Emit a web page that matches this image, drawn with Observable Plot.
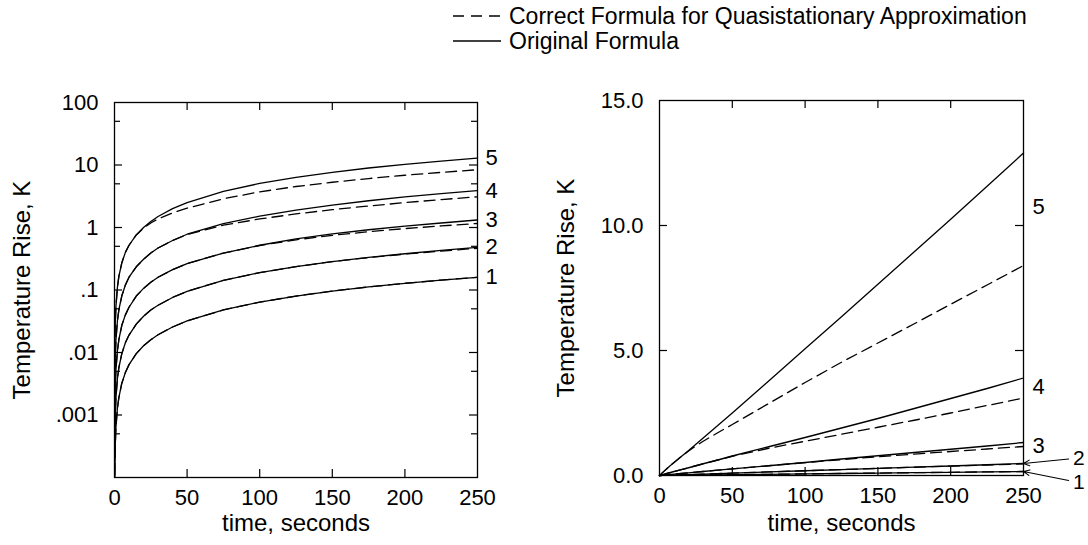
<!DOCTYPE html>
<html>
<head>
<meta charset="utf-8">
<script src="https://cdn.jsdelivr.net/npm/d3@7"></script>
<script src="https://cdn.jsdelivr.net/npm/@observablehq/plot@0.6"></script>
<style>
  html, body { margin: 0; padding: 0; background: #fff; }
  #root { position: relative; width: 1088px; height: 545px; overflow: hidden; background: #fff;
          font-family: "Liberation Sans", Arial, Helvetica, sans-serif; }
  #legend { position: absolute; left: 0; top: 0; width: 1088px; height: 60px; }
  #left { position: absolute; left: 0; top: 80px; width: 544px; height: 465px; }
  #right { position: absolute; left: 544px; top: 80px; width: 544px; height: 465px; }
  svg { overflow: visible; }
</style>
</head>
<body>
<div id="root">
  <div id="legend"></div>
  <div id="left"></div>
  <div id="right"></div>
</div>
<script>
// ---- data ----
const time = [0, 0.05, 0.1, 0.2, 0.5, 1, 2, 3, 5, 7.5, 10, 15, 20, 25, 30, 40, 50, 75, 100, 125, 150, 175, 200, 225, 250];

// Original formula (solid)
const orig5 = [0, 0.0028, 0.0055, 0.011, 0.028, 0.055, 0.11, 0.165, 0.27, 0.4, 0.52, 0.76, 1.0, 1.25, 1.5, 2.0, 2.5, 3.78, 5.07, 6.35, 7.65, 8.95, 10.25, 11.57, 12.9];
const orig4 = [0, 0.0008, 0.0016, 0.0032, 0.008, 0.016, 0.032, 0.048, 0.08, 0.12, 0.16, 0.235, 0.31, 0.39, 0.47, 0.62, 0.78, 1.15, 1.52, 1.9, 2.28, 2.68, 3.08, 3.48, 3.9];
const orig3 = [0, 0.00027, 0.00053, 0.00106, 0.0027, 0.0053, 0.0106, 0.016, 0.027, 0.04, 0.053, 0.08, 0.106, 0.133, 0.16, 0.212, 0.265, 0.39, 0.52, 0.66, 0.79, 0.92, 1.05, 1.18, 1.32];
const orig2 = [0, 0.0001, 0.00019, 0.00038, 0.00095, 0.0019, 0.0038, 0.0057, 0.0095, 0.0143, 0.019, 0.0285, 0.038, 0.048, 0.057, 0.076, 0.095, 0.143, 0.19, 0.237, 0.285, 0.333, 0.38, 0.43, 0.48];
const orig1 = [0, 0.000032, 0.000064, 0.000128, 0.00032, 0.00064, 0.00128, 0.0019, 0.0032, 0.0048, 0.0064, 0.0096, 0.0128, 0.016, 0.0192, 0.0256, 0.032, 0.048, 0.064, 0.08, 0.096, 0.112, 0.128, 0.144, 0.16];

// Correct formula for quasistationary approximation (dashed)
const quasi5 = [0, 0.0028, 0.0055, 0.011, 0.028, 0.055, 0.11, 0.165, 0.27, 0.4, 0.52, 0.76, 0.98, 1.18, 1.37, 1.71, 2.04, 2.88, 3.72, 4.53, 5.3, 6.07, 6.85, 7.62, 8.4];
const quasi4 = [0, 0.0008, 0.0016, 0.0032, 0.008, 0.016, 0.032, 0.048, 0.08, 0.12, 0.16, 0.235, 0.31, 0.39, 0.47, 0.62, 0.77, 1.09, 1.37, 1.65, 1.93, 2.21, 2.5, 2.8, 3.1];
const quasi3 = [0, 0.00027, 0.00053, 0.00106, 0.0027, 0.0053, 0.0106, 0.016, 0.027, 0.04, 0.053, 0.08, 0.106, 0.133, 0.16, 0.212, 0.265, 0.39, 0.515, 0.635, 0.75, 0.855, 0.96, 1.06, 1.16];
const quasi2 = [0, 0.0001, 0.00019, 0.00038, 0.00095, 0.0019, 0.0038, 0.0057, 0.0095, 0.0143, 0.019, 0.0285, 0.038, 0.048, 0.057, 0.076, 0.095, 0.143, 0.19, 0.237, 0.285, 0.33, 0.375, 0.42, 0.465];
const quasi1 = [0, 0.000032, 0.000064, 0.000128, 0.00032, 0.00064, 0.00128, 0.0019, 0.0032, 0.0048, 0.0064, 0.0096, 0.0128, 0.016, 0.0192, 0.0256, 0.032, 0.048, 0.064, 0.08, 0.096, 0.112, 0.128, 0.144, 0.16];

const curveNames = ["1", "2", "3", "4", "5"];
const origSeries = [orig1, orig2, orig3, orig4, orig5];
const quasiSeries = [quasi1, quasi2, quasi3, quasi4, quasi5];

// axes
const xTicks = [0, 50, 100, 150, 200, 250];
const logTickValues = [0.001, 0.01, 0.1, 1, 10, 100];
const logTickLabels = [".001", ".01", ".1", "1", "10", "100"];
const logMinorTicks = [0.0005, 0.005, 0.05, 0.5, 5, 50];
const linTickValues = [0, 5, 10, 15];
const linTickLabels = ["0.0", "5.0", "10.0", "15.0"];

const xTitle = "time, seconds";
const yTitle = "Temperature Rise, K";
const legendLabels = ["Correct Formula for Quasistationary Approximation", "Original Formula"];

// right-panel annotation anchors (in value units) for labels 1..5, and arrow tail time for 1 and 2
const rightLabelValues = [-0.26, 0.7, 1.2, 3.56, 10.76];
const rightArrowTailValues = [-0.2, 0.66];
const rightArrowTailTime = 281;
const rightArrowLabelTime = 284;

// ---- build tables ----
function rows(seriesList) {
  const out = [];
  seriesList.forEach((vals, k) => {
    vals.forEach((v, i) => out.push({t: time[i], T: v, curve: curveNames[k]}));
  });
  return out;
}
const origRows = rows(origSeries);
const quasiRows = rows(quasiSeries);
const tEnd = time[time.length - 1];
const endRows = origSeries.map((vals, k) => ({curve: curveNames[k], T: vals[vals.length - 1]}));

const FONT = '"Liberation Sans", Arial, Helvetica, sans-serif';
const DASH = "11,6";
const W = 544, H = 465;

function innerTicks(fw, fh, xt, yMajor, yMinor) {
  const inner = xt.filter(d => d > 0 && d < 250);
  return [
    Plot.tickX(inner, {x: d => d, insetTop: fh - 8, strokeWidth: 1.2}),
    Plot.tickX(inner, {x: d => d, insetBottom: fh - 8, strokeWidth: 1.2}),
    Plot.tickY(yMajor, {y: d => d, insetRight: fw - 8, strokeWidth: 1.2}),
    Plot.tickY(yMajor, {y: d => d, insetLeft: fw - 8, strokeWidth: 1.2}),
    Plot.tickY(yMinor, {y: d => d, insetRight: fw - 6, strokeWidth: 1.2}),
    Plot.tickY(yMinor, {y: d => d, insetLeft: fw - 6, strokeWidth: 1.2})
  ];
}

// ---- left panel (log) ----
{
  const mL = 114, mR = 67, mT = 22, mB = 68;
  const fw = W - mL - mR, fh = H - mT - mB;
  const labelMap = new Map(logTickValues.map((v, i) => [v, logTickLabels[i]]));
  const chart = Plot.plot({
    width: W, height: H,
    marginLeft: mL, marginRight: mR, marginTop: mT, marginBottom: mB,
    x: {domain: [0, 250]},
    y: {type: "log", domain: [1e-4, 100]},
    style: {fontFamily: FONT, fontSize: "22px", color: "black", background: "white", overflow: "visible"},
    marks: [
      Plot.line(origRows.filter(d => d.T > 0), {x: "t", y: "T", z: "curve", stroke: "black", strokeWidth: 1.3, clip: true}),
      Plot.line(quasiRows.filter(d => d.T > 0), {x: "t", y: "T", z: "curve", stroke: "black", strokeWidth: 1.3, strokeDasharray: DASH, clip: true}),
      Plot.frame({stroke: "black", strokeWidth: 1.3}),
      ...innerTicks(fw, fh, xTicks, logTickValues.slice(0, 5), logMinorTicks),
      Plot.axisX(xTicks, {tickSize: 0, tickPadding: 12, label: null}),
      Plot.axisY(logTickValues, {tickSize: 0, tickPadding: 16, label: null, tickFormat: d => labelMap.get(d)}),
      Plot.text([xTitle], {frameAnchor: "bottom", dy: 53, text: d => d, fontSize: 24, textAnchor: "middle"}),
      Plot.text([yTitle], {frameAnchor: "left", dx: -92, rotate: -90, text: d => d, fontSize: 24, textAnchor: "middle"}),
      Plot.text(endRows, {x: () => tEnd, y: "T", text: "curve", dx: 8, textAnchor: "start", fontSize: 22})
    ]
  });
  document.getElementById("left").appendChild(chart);
}

// ---- right panel (linear) ----
{
  const mL = 115, mR = 65, mT = 20, mB = 70;
  const fw = W - mL - mR, fh = H - mT - mB;
  const labelMap = new Map(linTickValues.map((v, i) => [v, linTickLabels[i]]));
  const rightLabels = curveNames.map((c, k) => ({
    curve: c, T: rightLabelValues[k], arrow: k < 2,
    tail: k < 2 ? rightArrowTailValues[k] : null, end: endRows[k].T
  }));
  const chart = Plot.plot({
    width: W, height: H,
    marginLeft: mL, marginRight: mR, marginTop: mT, marginBottom: mB,
    x: {domain: [0, 250]},
    y: {domain: [0, 15]},
    style: {fontFamily: FONT, fontSize: "22px", color: "black", background: "white", overflow: "visible"},
    marks: [
      Plot.line(origRows, {x: "t", y: "T", z: "curve", stroke: "black", strokeWidth: 1.3}),
      Plot.line(quasiRows, {x: "t", y: "T", z: "curve", stroke: "black", strokeWidth: 1.3, strokeDasharray: DASH}),
      Plot.frame({stroke: "black", strokeWidth: 1.3}),
      ...innerTicks(fw, fh, xTicks, [5, 10], []),
      Plot.axisX(xTicks, {tickSize: 0, tickPadding: 12, label: null}),
      Plot.axisY(linTickValues, {tickSize: 0, tickPadding: 16, label: null, tickFormat: d => labelMap.get(d)}),
      Plot.text([xTitle], {frameAnchor: "bottom", dy: 55, text: d => d, fontSize: 24, textAnchor: "middle"}),
      Plot.text([yTitle], {frameAnchor: "left", dx: -93, rotate: -90, text: d => d, fontSize: 24, textAnchor: "middle"}),
      Plot.text(rightLabels.filter(d => !d.arrow), {x: () => tEnd, y: "T", text: "curve", dx: 9, textAnchor: "start", fontSize: 22}),
      Plot.text(rightLabels.filter(d => d.arrow), {x: () => rightArrowLabelTime, y: "T", text: "curve", textAnchor: "start", fontSize: 21}),
      Plot.arrow(rightLabels.filter(d => d.arrow), {x1: () => rightArrowTailTime, y1: "tail", x2: () => tEnd, y2: "end", headLength: 9, headAngle: 50, strokeWidth: 1.1})
    ]
  });
  document.getElementById("right").appendChild(chart);
}

// ---- legend ----
{
  const svg = d3.select("#legend").append("svg").attr("width", 1088).attr("height", 60);
  const rowsY = [16, 41];
  legendLabels.forEach((lab, i) => {
    svg.append("line").attr("x1", 453).attr("x2", 501).attr("y1", rowsY[i]).attr("y2", rowsY[i])
      .attr("stroke", "black").attr("stroke-width", 1.3)
      .attr("stroke-dasharray", i === 0 ? "11,7" : null);
    svg.append("text").attr("x", 509).attr("y", rowsY[i]).attr("dy", "0.35em")
      .attr("font-family", FONT).attr("font-size", 23).attr("fill", "black").text(lab);
  });
}
</script>
</body>
</html>
